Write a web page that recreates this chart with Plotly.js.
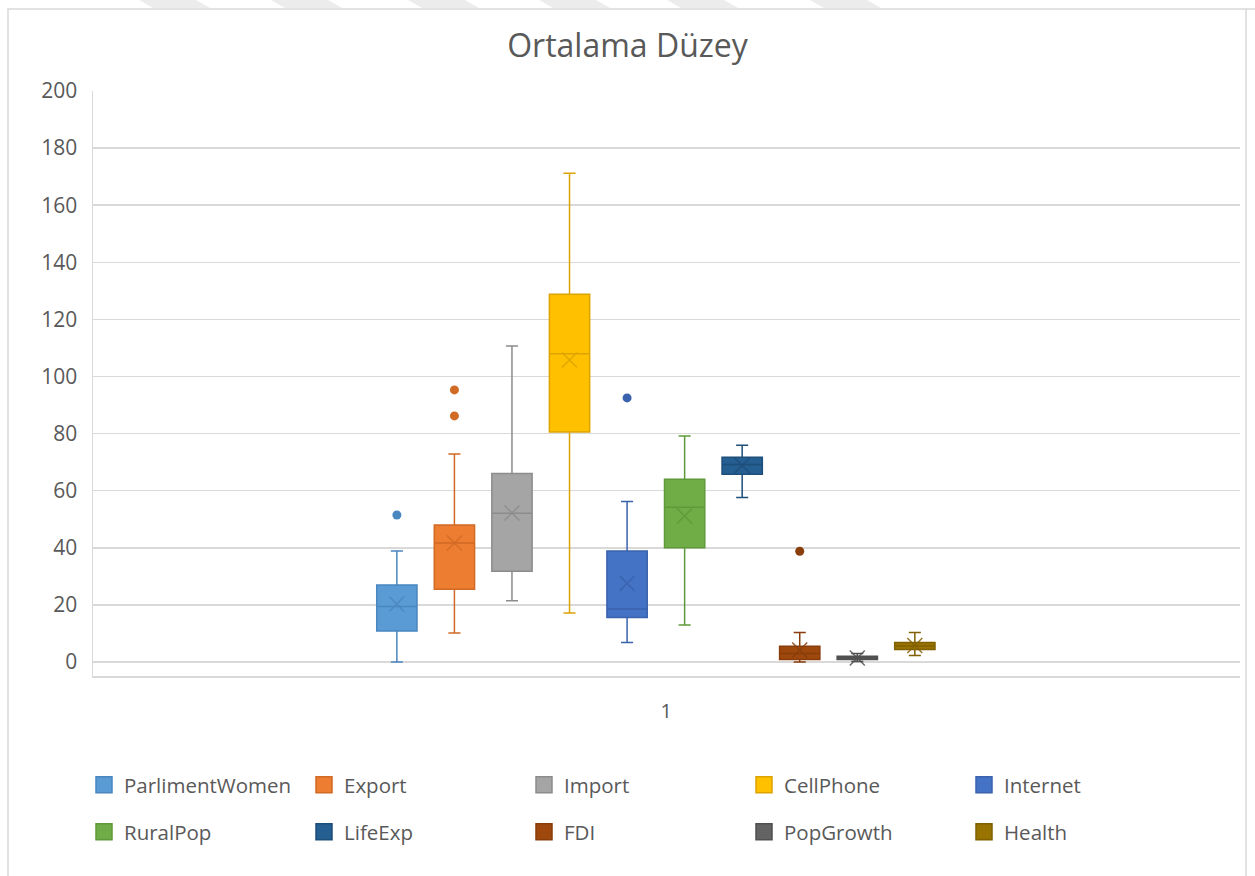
<!DOCTYPE html>
<html>
<head>
<meta charset="utf-8">
<script src="https://cdn.plot.ly/plotly-3.0.1.min.js"></script>
<style>html,body{margin:0;padding:0;background:#fff;}#chart{width:1255px;height:876px;}</style>
</head>
<body>
<div id="chart"></div>
<script>
// ---- data ----
const names = ['ParlimentWomen','Export','Import','CellPhone','Internet','RuralPop','LifeExp','FDI','PopGrowth','Health'];
const q1 = [10.9, 25.5, 31.8, 80.6, 15.6, 40.0, 65.8, 0.9, 0.9, 4.4];
const medians = [19.4, 41.7, 52.1, 108.0, 18.6, 54.2, 69.2, 3.0, 1.5, 5.6];
const q3 = [27.0, 48.0, 66.0, 128.8, 38.9, 64.0, 71.7, 5.5, 2.0, 6.8];
const lowerFence = [0.0, 10.2, 21.5, 17.2, 6.8, 13.0, 57.6, 0.0, 0.2, 2.3];
const upperFence = [38.9, 72.9, 110.7, 171.2, 56.2, 79.2, 75.9, 10.3, 3.0, 10.3];
const means = [20.3, 41.7, 52.2, 105.8, 27.6, 51.1, 68.8, 4.2, 1.4, 5.8];
const outliers = [[51.5], [95.3, 86.2], [], [], [92.5], [], [], [38.8], [], []];
const categoryLabel = '1';
const yTicks = [0, 20, 40, 60, 80, 100, 120, 140, 160, 180, 200];

// ---- styles ----
const fillColors = ['#5B9BD5','#ED7D31','#A5A5A5','#FFC000','#4472C4','#70AD47','#255E91','#9E480E','#636363','#997300'];
const lineColors = ['#4A86BF','#D06A25','#8C8C8C','#DDA300','#3A62AD','#5F9A3A','#1E4E7A','#883D0B','#505050','#806000'];
const FONT = 'Open Sans, Noto Sans, sans-serif';
const TXT = '#595959';

const traces = [];
names.forEach((n, i) => {
  traces.push({
    type: 'box', name: n, x: [i], legendgroup: n, showlegend: false,
    q1: [q1[i]], median: [medians[i]], q3: [q3[i]],
    lowerfence: [lowerFence[i]], upperfence: [upperFence[i]],
    boxpoints: false, boxmean: false,
    width: 0.7, whiskerwidth: 0.3,
    fillcolor: fillColors[i],
    line: {color: lineColors[i], width: 1.5},
    hoverinfo: 'skip'
  });
});
names.forEach((n, i) => {
  traces.push({
    type: 'scatter', mode: 'markers', x: [i], y: [means[i]], showlegend: false, legendgroup: n,
    marker: {symbol: 'x-thin-open', size: 15, color: lineColors[i], line: {color: lineColors[i], width: 1.5}, opacity: 0.85},
    hoverinfo: 'skip'
  });
  if (outliers[i].length) {
    traces.push({
      type: 'scatter', mode: 'markers', x: outliers[i].map(() => i), y: outliers[i], showlegend: false, legendgroup: n,
      marker: {symbol: 'circle', size: 9, color: lineColors[i]},
      hoverinfo: 'skip'
    });
  }
});
// legend entries (square swatches like the reference)
names.forEach((n, i) => {
  traces.push({
    type: 'scatter', mode: 'markers', name: n, x: [null], y: [null], legendgroup: n,
    legend: i < 5 ? 'legend' : 'legend2',
    marker: {symbol: 'square', size: 16, color: fillColors[i], line: {color: lineColors[i], width: 1.5}},
    hoverinfo: 'skip'
  });
});

const L = 93, R = 15, T = 91, B = 200, W = 1255, H = 876;
const pw = W - L - R, ph = H - T - B;
const px2x = p => (p - L) / pw;
const py2y = p => (H - B - p) / ph;

const legendCommon = {
  orientation: 'h', xanchor: 'left', yanchor: 'middle',
  font: {family: FONT, size: 20.5, color: TXT},
  entrywidth: 175, entrywidthmode: 'pixels',
  bgcolor: 'rgba(0,0,0,0)', itemclick: false, itemdoubleclick: false
};

// faint watermark bands at the very top of the reference image
const bandStarts = [139, 271, 408, 539, 667, 810];
const bandShapes = bandStarts.map(b => ({
  type: 'path', xref: 'paper', yref: 'paper', layer: 'below',
  path: `M ${px2x(b)} ${py2y(0)} L ${px2x(b + 57)} ${py2y(0)} L ${px2x(b + 71)} ${py2y(8)} L ${px2x(b + 14)} ${py2y(8)} Z`,
  fillcolor: '#ececec', line: {width: 0}
}));

const layout = {
  width: W, height: H,
  margin: {l: L, r: R, t: T, b: B},
  paper_bgcolor: '#fff', plot_bgcolor: '#fff',
  title: {text: 'Ortalama Düzey', font: {family: FONT, size: 32, color: TXT}, x: 0.5, xanchor: 'center', y: 1 - 46 / H, yanchor: 'middle'},
  boxmode: 'overlay',
  showlegend: true,
  xaxis: {
    range: [-5.28, 14.65], tickvals: [4.68], ticktext: [categoryLabel],
    showgrid: false, zeroline: false, showline: true, linecolor: '#d9d9d9', linewidth: 1.5,
    ticks: '', tickfont: {family: FONT, size: 20, color: TXT}, ticklabelstandoff: 16, fixedrange: true
  },
  yaxis: {
    range: [-4.9, 200], tickvals: yTicks, showgrid: true, gridcolor: '#d9d9d9', gridwidth: 1.5,
    zeroline: false, showline: true, linecolor: '#d9d9d9', linewidth: 1.5,
    ticks: '', tickfont: {family: FONT, size: 21, color: TXT}, ticklabelstandoff: 10, fixedrange: true
  },
  legend: Object.assign({}, legendCommon, {x: px2x(84), y: py2y(785)}),
  legend2: Object.assign({}, legendCommon, {x: px2x(84), y: py2y(832)}),
  shapes: bandShapes.concat([
    {type: 'rect', xref: 'paper', yref: 'paper', x0: px2x(8), x1: px2x(1246), y0: py2y(900), y1: py2y(9),
     line: {color: '#d9d9d9', width: 1.5}, fillcolor: 'rgba(0,0,0,0)', layer: 'below'},
    {type: 'line', xref: 'paper', yref: 'paper', x0: px2x(1246), x1: px2x(1260), y0: py2y(9), y1: py2y(9),
     line: {color: '#d9d9d9', width: 1.5}, layer: 'below'}
  ])
};

Plotly.newPlot('chart', traces, layout, {displayModeBar: false, staticPlot: true});
</script>
</body>
</html>
